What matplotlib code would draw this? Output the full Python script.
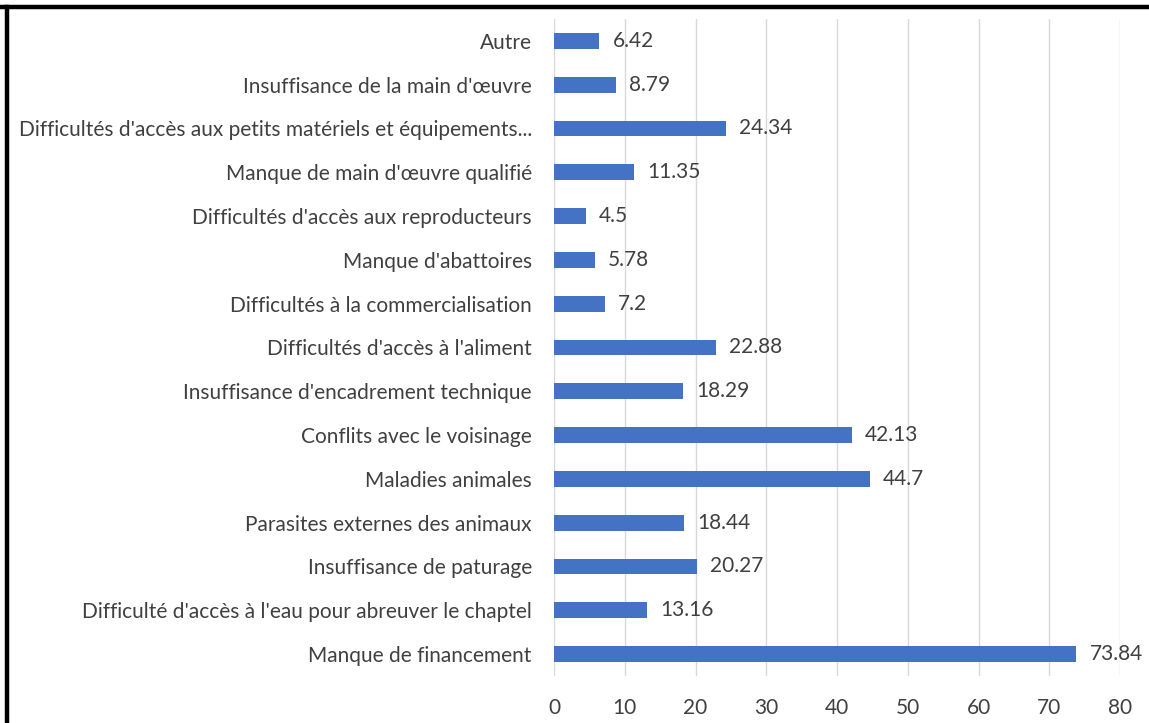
import matplotlib
matplotlib.use("Agg")
import matplotlib.pyplot as plt
from matplotlib.lines import Line2D

categories = [
    "Autre",
    "Insuffisance de la main d'œuvre",
    "Difficultés d'accès aux petits matériels et équipements...",
    "Manque de main d'œuvre qualifié",
    "Difficultés d'accès aux reproducteurs",
    "Manque d'abattoires",
    "Difficultés à la commercialisation",
    "Difficultés d'accès à l'aliment",
    "Insuffisance d'encadrement technique",
    "Conflits avec le voisinage",
    "Maladies animales",
    "Parasites externes des animaux",
    "Insuffisance de paturage",
    "Difficulté d'accès à l'eau pour abreuver le chaptel",
    "Manque de financement",
]
values = [6.42, 8.79, 24.34, 11.35, 4.5, 5.78, 7.2, 22.88, 18.29, 42.13,
          44.7, 18.44, 20.27, 13.16, 73.84]
value_labels = ["6.42", "8.79", "24.34", "11.35", "4.5", "5.78", "7.2", "22.88",
                "18.29", "42.13", "44.7", "18.44", "20.27", "13.16", "73.84"]
xticks = [0, 10, 20, 30, 40, 50, 60, 70, 80]

plt.rcParams['font.family'] = ['Lato', 'DejaVu Sans']
W, H = 1149, 723
fig = plt.figure(figsize=(W / 100, H / 100), dpi=100)
# axes: x 554..1120, y 19..676 (pixels from top)
left, right, top, bottom = 554, 1120, 19, 676
ax = fig.add_axes([left / W, 1 - bottom / H, (right - left) / W, (bottom - top) / H])

FS = 15
n = len(categories)
ypos = list(range(n))
ax.barh(ypos, values, height=0.365, color='#4472C4', zorder=3)
ax.set_ylim(n - 0.5, -0.5)
ax.set_xlim(0, 80)
ax.set_xticks(xticks)
ax.set_xticklabels([str(t) for t in xticks])
ax.set_yticks(ypos)
ax.set_yticklabels(categories)
ax.grid(axis='x', color='#D9D9D9', linewidth=1.0, zorder=0)
for s in ax.spines.values():
    s.set_visible(False)
ax.tick_params(axis='both', length=0, labelcolor='#404040', labelsize=FS)
ax.tick_params(axis='y', pad=16)
ax.tick_params(axis='x', pad=16)

for y, v, lab in zip(ypos, values, value_labels):
    ax.annotate(lab, (v, y), xytext=(13, 0), textcoords='offset pixels',
                va='center', ha='left', fontsize=FS, color='#404040')

# frame lines (top and left) like the screenshot border
fig.add_artist(Line2D([0, 1], [1 - 7 / H, 1 - 7 / H], transform=fig.transFigure,
                      color='black', linewidth=3.2))
fig.add_artist(Line2D([7 / W, 7 / W], [0, 1 - 7 / H], transform=fig.transFigure,
                      color='black', linewidth=3.2))

fig.savefig("out.png", dpi=100, facecolor='white')
